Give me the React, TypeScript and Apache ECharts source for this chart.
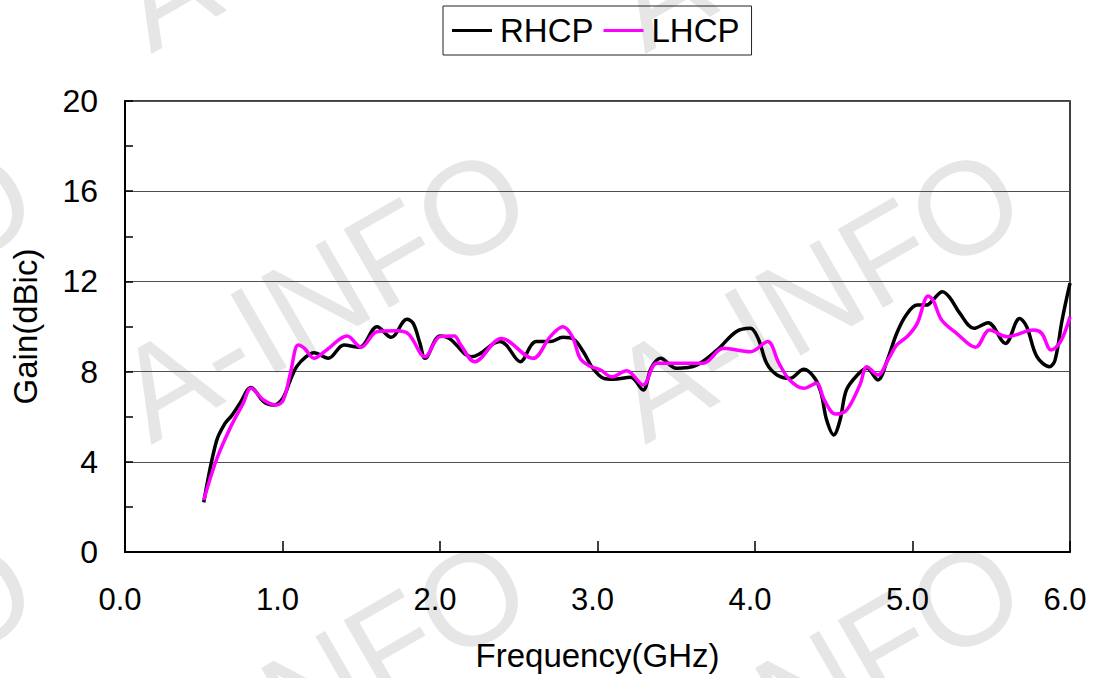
import React, { useEffect, useRef } from "react";
import * as echarts from "echarts";

const FONT = "'Liberation Sans', Arial, Helvetica, sans-serif";

const seriesNames = ["RHCP", "LHCP"];
const xTicks = [0, 1, 2, 3, 4, 5, 6];
const yTicks = [0, 4, 8, 12, 16, 20];

const freqRHCP = [
  0.5, 0.58, 0.635, 0.68, 0.73, 0.8, 0.88, 0.94, 1.0, 1.05, 1.09, 1.15, 1.2, 1.29, 1.39, 1.49,
  1.6, 1.69, 1.79, 1.83, 1.873, 1.905, 2.0, 2.06, 2.2, 2.25, 2.38, 2.42, 2.51, 2.58, 2.61, 2.7,
  2.78, 2.85, 2.91, 2.97, 3.04, 3.1, 3.21, 3.29, 3.34, 3.4, 3.5, 3.63, 3.76, 3.88, 3.97, 4.02,
  4.074, 4.14, 4.22, 4.31, 4.38, 4.42, 4.455, 4.5, 4.54, 4.58, 4.65, 4.71, 4.78, 4.84, 4.9,
  4.96, 5.03, 5.09, 5.13, 5.19, 5.24, 5.3, 5.39, 5.48, 5.59, 5.68, 5.725, 5.79, 5.87, 5.905,
  5.95, 6.0,
];
const gainRHCP = [
  2.2, 4.9, 5.7, 6.07, 6.6, 7.3, 6.67, 6.52, 6.8, 7.63, 8.22, 8.66, 8.84, 8.59, 9.18, 9.08,
  9.99, 9.52, 10.32, 10.14, 9.25, 8.59, 9.58, 9.47, 8.66, 8.78, 9.33, 9.18, 8.44, 9.18, 9.33, 9.33,
  9.52, 9.43, 8.88, 8.15, 7.7, 7.66, 7.75, 7.18, 8.15, 8.59, 8.15, 8.29, 8.96, 9.77, 9.92, 9.47,
  8.37, 7.85, 7.7, 8.1, 7.7, 7.04, 5.85, 5.19, 5.85, 7.18, 7.85, 8.15, 7.63, 8.51, 9.7,
  10.51, 10.95, 10.95, 11.18, 11.54, 11.25, 10.59, 9.92, 10.17, 9.25, 10.36, 9.99, 8.66, 8.22, 8.51,
  10.29, 11.92,
];

const freqLHCP = [
  0.5, 0.58, 0.667, 0.75, 0.8, 0.88, 0.96, 1.005, 1.05, 1.1, 1.14, 1.2, 1.28, 1.41, 1.5, 1.6,
  1.725, 1.8, 1.905, 2.0, 2.09, 2.13, 2.22, 2.39, 2.59, 2.7, 2.78, 2.84, 2.89, 2.95, 3.02, 3.09,
  3.185, 3.29, 3.376, 3.5, 3.67, 3.8, 3.97, 4.08, 4.15, 4.22, 4.31, 4.39, 4.44, 4.51, 4.57,
  4.61, 4.67, 4.71, 4.78, 4.85, 4.9, 4.97, 5.03, 5.1, 5.13, 5.185, 5.28, 5.4, 5.49, 5.6, 5.77,
  5.82, 5.88, 5.94, 6.0,
];
const gainLHCP = [
  2.3, 4.08, 5.49, 6.59, 7.26, 6.74, 6.52, 6.74, 7.92, 9.18, 9.03, 8.59, 8.96, 9.58, 9.08, 9.77,
  9.81, 9.67, 8.66, 9.55, 9.58, 9.2, 8.44, 9.47, 8.59, 9.55, 9.99, 9.55, 8.59, 8.25, 8.07, 7.77,
  8.04, 7.41, 8.37, 8.37, 8.37, 9.03, 8.88, 9.33, 8.4, 7.63, 7.26, 7.48, 6.74, 6.12, 6.22,
  6.59, 7.48, 8.22, 7.85, 8.59, 9.18, 9.58, 10.14, 11.35, 11.18, 10.29, 9.7, 9.08, 9.84, 9.55, 9.84,
  9.7, 8.96, 9.33, 10.43,
];

const watermarkText = "A-INFO";
const watermarkX = [-172, 322, 816];
const watermarkY = [-97, 294, 685];

function zip(xs: number[], ys: number[]) {
  return xs.map((x, i) => [x, ys[i]]);
}

export default function App() {
  const ref = useRef<HTMLDivElement>(null);

  useEffect(() => {
    if (!ref.current) return;
    const chart = echarts.init(ref.current, undefined, { renderer: "svg" });

    const watermarks: any[] = [];
    watermarkX.forEach((x) => {
      watermarkY.forEach((y) => {
        watermarks.push({
          type: "text",
          x,
          y,
          rotation: Math.PI / 6,
          z: -10,
          silent: true,
          style: {
            text: watermarkText,
            fontSize: 132,
            fontFamily: FONT,
            fill: "#e6e6e6",
            align: "center",
            verticalAlign: "middle",
          },
        });
      });
    });

    chart.setOption({
      animation: false,
      backgroundColor: "#ffffff",
      textStyle: { fontFamily: FONT },
      graphic: watermarks,
      legend: {
        top: 6,
        left: 443,
        data: seriesNames.map((n) => ({ name: n, icon: "rect" })),
        itemWidth: 40,
        itemHeight: 3,
        itemGap: 10,
        padding: [8, 12, 8, 9],
        borderColor: "#222",
        borderWidth: 1,
        textStyle: { fontSize: 33, color: "#000", fontFamily: FONT, padding: [0, 0, 0, 3] },
      },
      grid: {
        left: 125,
        right: 25,
        top: 101,
        bottom: 126,
        show: true,
        borderColor: "#000",
        borderWidth: 1.5,
        backgroundColor: "transparent",
      },
      xAxis: {
        type: "value",
        min: xTicks[0],
        max: xTicks[xTicks.length - 1],
        interval: 1,
        name: "Frequency(GHz)",
        nameLocation: "middle",
        nameGap: 87,
        nameTextStyle: { fontSize: 33, color: "#000", fontFamily: FONT },
        axisLine: { lineStyle: { color: "#000", width: 2 } },
        axisTick: { inside: true, length: 11, lineStyle: { color: "#000", width: 1.5 } },
        axisLabel: {
          fontSize: 31,
          color: "#000",
          margin: 32,
          padding: [0, 10, 0, 0],
          fontFamily: FONT,
          formatter: (v: number) => v.toFixed(1),
        },
        splitLine: { show: false },
      },
      yAxis: {
        type: "value",
        min: yTicks[0],
        max: yTicks[yTicks.length - 1],
        interval: 4,
        name: "Gain(dBic)",
        nameLocation: "middle",
        nameGap: 83,
        nameTextStyle: { fontSize: 33, color: "#000", fontFamily: FONT },
        axisLine: { lineStyle: { color: "#000", width: 2 } },
        axisTick: { inside: true, length: 8, lineStyle: { color: "#000", width: 1.5 } },
        minorTick: { show: true, splitNumber: 2, length: 8, lineStyle: { color: "#000", width: 1.5 } },
        axisLabel: { fontSize: 32, color: "#000", margin: 27, fontFamily: FONT },
        splitLine: { show: true, lineStyle: { color: "#505050", width: 1.2 } },
      },
      series: [
        {
          name: seriesNames[0],
          type: "line",
          data: zip(freqRHCP, gainRHCP),
          symbol: "none",
          smooth: 0.35,
          lineStyle: { color: "#000000", width: 3.5 },
          itemStyle: { color: "#000000" },
          z: 3,
        },
        {
          name: seriesNames[1],
          type: "line",
          data: zip(freqLHCP, gainLHCP),
          symbol: "none",
          smooth: 0.35,
          lineStyle: { color: "#ff00ff", width: 3.5 },
          itemStyle: { color: "#ff00ff" },
          z: 4,
        },
      ],
    });

    return () => chart.dispose();
  }, []);

  return <div ref={ref} style={{ width: 1095, height: 678, position: "absolute", left: 0, top: 0 }} />;
}
